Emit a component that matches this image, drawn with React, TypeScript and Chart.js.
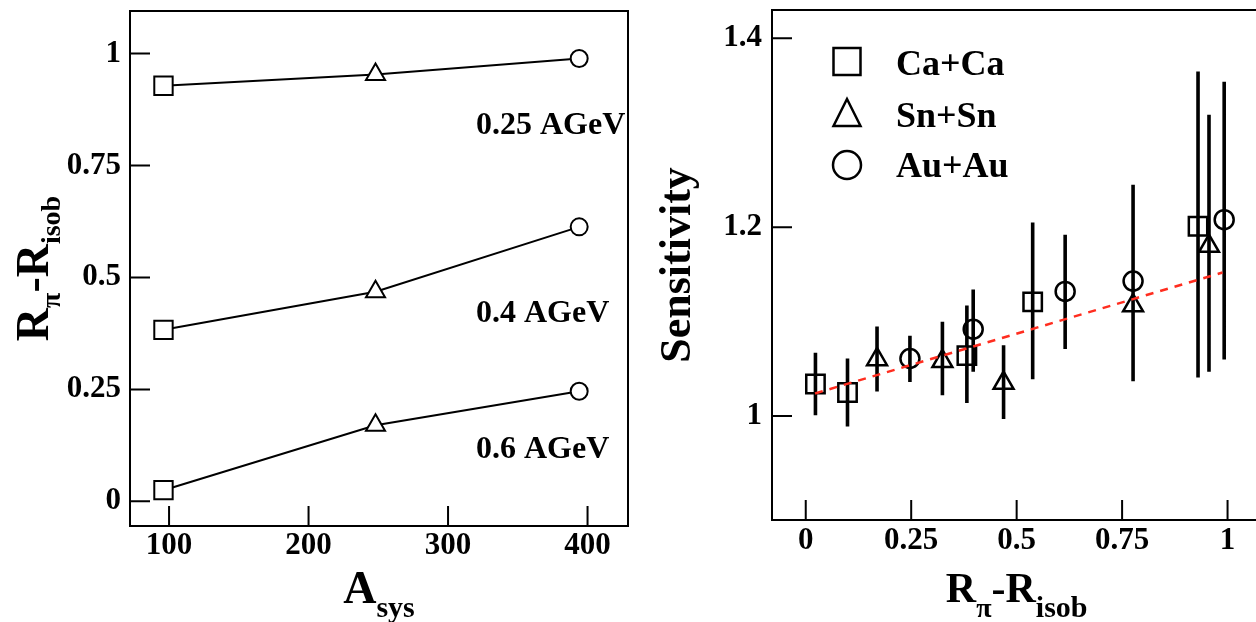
import React, { useEffect, useRef } from "react";
import { Chart, registerables } from "chart.js";

Chart.register(...registerables);

const FONT = '"Liberation Serif", "Times New Roman", serif';

// ---------- Left panel data ----------
const systemMass = [96, 248, 394];
const diff025 = [0.928, 0.953, 0.989];
const diff04 = [0.383, 0.468, 0.613];
const diff06 = [0.025, 0.17, 0.246];
const energyLabels = ["0.25 AGeV", "0.4 AGeV", "0.6 AGeV"];
const energyLabelX = [320, 320, 320];
const energyLabelY = [0.82, 0.4016, 0.0975];
const leftXTicks = [100, 200, 300, 400];
const leftYTicks = [0, 0.25, 0.5, 0.75, 1];

// ---------- Right panel data ----------
const caX = [0.023, 0.099, 0.382, 0.538, 0.93];
const caY = [1.034, 1.025, 1.064, 1.121, 1.201];
const caLo = [1.001, 0.989, 1.014, 1.039, 1.041];
const caHi = [1.067, 1.061, 1.117, 1.205, 1.365];

const snX = [0.169, 0.324, 0.469, 0.776, 0.956];
const snY = [1.06, 1.058, 1.035, 1.117, 1.18];
const snLo = [1.026, 1.022, 0.997, 1.037, 1.047];
const snHi = [1.095, 1.1, 1.075, 1.19, 1.319];

const auX = [0.247, 0.397, 0.615, 0.776, 0.992];
const auY = [1.061, 1.092, 1.132, 1.143, 1.208];
const auLo = [1.036, 1.047, 1.071, 1.038, 1.06];
const auHi = [1.085, 1.134, 1.192, 1.245, 1.354];

const fitX = [0.022, 0.988];
const fitY = [1.024, 1.152];

const legendNames = ["Ca+Ca", "Sn+Sn", "Au+Au"];
const rightXTicks = [0, 0.25, 0.5, 0.75, 1];
const rightYTicks = [1, 1.2, 1.4];

type Part = { text: string; size: number; dy: number };

function drawRich(ctx: CanvasRenderingContext2D, parts: Part[], x: number, y: number, rotate: boolean) {
  ctx.save();
  ctx.translate(x, y);
  if (rotate) ctx.rotate(-Math.PI / 2);
  ctx.fillStyle = "#000";
  ctx.textAlign = "left";
  ctx.textBaseline = "alphabetic";
  let total = 0;
  const widths = parts.map((p) => {
    ctx.font = `bold ${p.size}px ${FONT}`;
    const w = ctx.measureText(p.text).width;
    total += w;
    return w;
  });
  let cx = -total / 2;
  parts.forEach((p, i) => {
    ctx.font = `bold ${p.size}px ${FONT}`;
    ctx.fillText(p.text, cx, p.dy);
    cx += widths[i];
  });
  ctx.restore();
}

function drawFrameAndTicks(chart: any) {
  const { ctx, chartArea: a, scales } = chart;
  ctx.save();
  ctx.strokeStyle = "#000";
  ctx.lineWidth = 2;
  ctx.strokeRect(a.left, a.top, a.right - a.left, a.bottom - a.top);
  const len = 20;
  ctx.beginPath();
  scales.x.ticks.forEach((t: any) => {
    const px = scales.x.getPixelForValue(t.value);
    ctx.moveTo(px, a.bottom);
    ctx.lineTo(px, a.bottom - len);
  });
  scales.y.ticks.forEach((t: any) => {
    const py = scales.y.getPixelForValue(t.value);
    ctx.moveTo(a.left, py);
    ctx.lineTo(a.left + len, py);
  });
  ctx.stroke();
  ctx.restore();
}

function drawMarker(ctx: CanvasRenderingContext2D, style: string, x: number, y: number, s: number) {
  ctx.beginPath();
  if (style === "rect") {
    ctx.rect(x - s / 2, y - s / 2, s, s);
  } else if (style === "triangle") {
    ctx.moveTo(x, y - s / 2);
    ctx.lineTo(x + s / 2, y + s / 2);
    ctx.lineTo(x - s / 2, y + s / 2);
    ctx.closePath();
  } else {
    ctx.arc(x, y, s / 2, 0, Math.PI * 2);
  }
  ctx.stroke();
}

const tickFont = { family: FONT, size: 31, weight: "bold" as const };

function makeAxis(min: number, max: number, values: number[], padding: number, fitSize: (s: any) => void) {
  return {
    type: "linear" as const,
    min,
    max,
    afterBuildTicks: (s: any) => {
      s.ticks = values.map((v) => ({ value: v }));
    },
    afterFit: (s: any) => {
      fitSize(s);
      s.paddingTop = 0;
      s.paddingBottom = 0;
      s.paddingLeft = 0;
      s.paddingRight = 0;
    },
    grid: { display: false, drawTicks: false },
    border: { display: false },
    ticks: {
      font: tickFont,
      color: "#000",
      padding,
      autoSkip: false,
      maxRotation: 0,
      callback: (v: any) => String(Number(v.toFixed(2))),
    },
  };
}

function LeftPanel() {
  const ref = useRef<HTMLCanvasElement | null>(null);
  useEffect(() => {
    const series = [diff025, diff04, diff06];
    const decor = {
      id: "leftDecor",
      beforeDatasetsDraw: (chart: any) => drawFrameAndTicks(chart),
      afterDraw: (chart: any) => {
        const { ctx, chartArea: a, scales } = chart;
        ctx.save();
        ctx.fillStyle = "#000";
        ctx.font = `bold 32px ${FONT}`;
        ctx.textAlign = "left";
        ctx.textBaseline = "alphabetic";
        energyLabels.forEach((t, i) => {
          ctx.fillText(t, scales.x.getPixelForValue(energyLabelX[i]), scales.y.getPixelForValue(energyLabelY[i]));
        });
        ctx.restore();
        drawRich(
          ctx,
          [
            { text: "R", size: 46, dy: 0 },
            { text: "π", size: 28, dy: 12 },
            { text: "-R", size: 46, dy: 0 },
            { text: "isob", size: 28, dy: 12 },
          ],
          a.left - 82,
          (a.top + a.bottom) / 2,
          true
        );
        drawRich(
          ctx,
          [
            { text: "A", size: 46, dy: 0 },
            { text: "sys", size: 30, dy: 14 },
          ],
          (a.left + a.right) / 2,
          603,
          false
        );
      },
    };
    const chart = new Chart(ref.current as HTMLCanvasElement, {
      type: "scatter",
      data: {
        datasets: series.map((vals) => ({
          data: systemMass.map((x, i) => ({ x, y: vals[i] })),
          showLine: true,
          borderColor: "#000",
          borderWidth: 2,
          pointStyle: ["rect", "triangle", "circle"],
          pointRadius: [13, 11, 8.5],
          pointBorderColor: "#000",
          pointBackgroundColor: "#fff",
          pointBorderWidth: 2,
          clip: false,
        })) as any,
      },
      options: {
        animation: false,
        responsive: false,
        devicePixelRatio: 1,
        layout: { autoPadding: false, padding: { left: 0, right: 12, top: 11, bottom: 0 } },
        plugins: { legend: { display: false }, tooltip: { enabled: false } },
        scales: {
          x: makeAxis(72, 429, leftXTicks, 1, (s: any) => {
            s.height = 96;
          }),
          y: makeAxis(-0.055, 1.095, leftYTicks, 9, (s: any) => {
            s.width = 130;
          }),
        },
      } as any,
      plugins: [decor],
    });
    return () => chart.destroy();
  }, []);
  return (
    <canvas
      ref={ref}
      width={640}
      height={622}
      style={{ position: "absolute", left: 0, top: 0, width: 640, height: 622 }}
    />
  );
}

function RightPanel() {
  const ref = useRef<HTMLCanvasElement | null>(null);
  useEffect(() => {
    const groups = [
      { xs: caX, ys: caY, lo: caLo, hi: caHi, style: "rect", r: 13 },
      { xs: snX, ys: snY, lo: snLo, hi: snHi, style: "triangle", r: 11.5 },
      { xs: auX, ys: auY, lo: auLo, hi: auHi, style: "circle", r: 9.5 },
    ];
    const decor = {
      id: "rightDecor",
      beforeDatasetsDraw: (chart: any) => {
        drawFrameAndTicks(chart);
        const { ctx, scales } = chart;
        ctx.save();
        ctx.strokeStyle = "#000";
        ctx.lineWidth = 3.6;
        ctx.beginPath();
        groups.forEach((g) => {
          g.xs.forEach((x, i) => {
            const px = scales.x.getPixelForValue(x);
            ctx.moveTo(px, scales.y.getPixelForValue(g.lo[i]));
            ctx.lineTo(px, scales.y.getPixelForValue(g.hi[i]));
          });
        });
        ctx.stroke();
        ctx.restore();
      },
      afterDraw: (chart: any) => {
        const { ctx, chartArea: a } = chart;
        ctx.save();
        ctx.strokeStyle = "#000";
        ctx.lineWidth = 2.5;
        const mx = a.left + 75;
        const rows = [
          { style: "rect", y: a.top + 51.5, s: 27 },
          { style: "triangle", y: a.top + 102.5, s: 27 },
          { style: "circle", y: a.top + 155, s: 28 },
        ];
        rows.forEach((r) => drawMarker(ctx, r.style, mx, r.y, r.s));
        ctx.fillStyle = "#000";
        ctx.font = `bold 36px ${FONT}`;
        ctx.textAlign = "left";
        ctx.textBaseline = "alphabetic";
        const base = [65, 117, 167];
        legendNames.forEach((n, i) => ctx.fillText(n, a.left + 124, a.top + base[i]));
        ctx.restore();
        drawRich(ctx, [{ text: "Sensitivity", size: 44, dy: 0 }], a.left - 82, (a.top + a.bottom) / 2, true);
        drawRich(
          ctx,
          [
            { text: "R", size: 42, dy: 0 },
            { text: "π", size: 28, dy: 15 },
            { text: "-R", size: 42, dy: 0 },
            { text: "isob", size: 30, dy: 15 },
          ],
          (a.left + a.right) / 2,
          602,
          false
        );
      },
    };
    const scatterSets = groups.map((g) => ({
      data: g.xs.map((x, i) => ({ x, y: g.ys[i] })),
      pointStyle: g.style,
      pointRadius: g.r,
      pointBorderColor: "#000",
      pointBackgroundColor: "rgba(0,0,0,0)",
      pointBorderWidth: 2.5,
      showLine: false,
      order: 1,
      clip: false,
    }));
    const fitSet = {
      data: fitX.map((x, i) => ({ x, y: fitY[i] })),
      showLine: true,
      borderColor: "#ff2d1f",
      borderWidth: 2.5,
      borderDash: [8, 7],
      pointRadius: 0,
      order: 0,
    };
    const chart = new Chart(ref.current as HTMLCanvasElement, {
      type: "scatter",
      data: { datasets: [...scatterSets, fitSet] as any },
      options: {
        animation: false,
        responsive: false,
        devicePixelRatio: 1,
        layout: { autoPadding: false, padding: { left: 0, right: 640 - 621.3, top: 10, bottom: 0 } },
        plugins: { legend: { display: false }, tooltip: { enabled: false } },
        scales: {
          x: makeAxis(-0.08, 1.08, rightXTicks, 2, (s: any) => {
            s.height = 102;
          }),
          y: makeAxis(0.89, 1.43, rightYTicks, 10, (s: any) => {
            s.width = 132;
          }),
        },
      } as any,
      plugins: [decor],
    });
    return () => chart.destroy();
  }, []);
  return (
    <canvas
      ref={ref}
      width={640}
      height={622}
      style={{ position: "absolute", left: 640, top: 0, width: 640, height: 622 }}
    />
  );
}

export default function App() {
  return (
    <div
      style={{
        position: "fixed",
        left: 0,
        top: 0,
        width: 1256,
        height: 622,
        overflow: "hidden",
        background: "#fff",
      }}
    >
      <LeftPanel />
      <RightPanel />
    </div>
  );
}
